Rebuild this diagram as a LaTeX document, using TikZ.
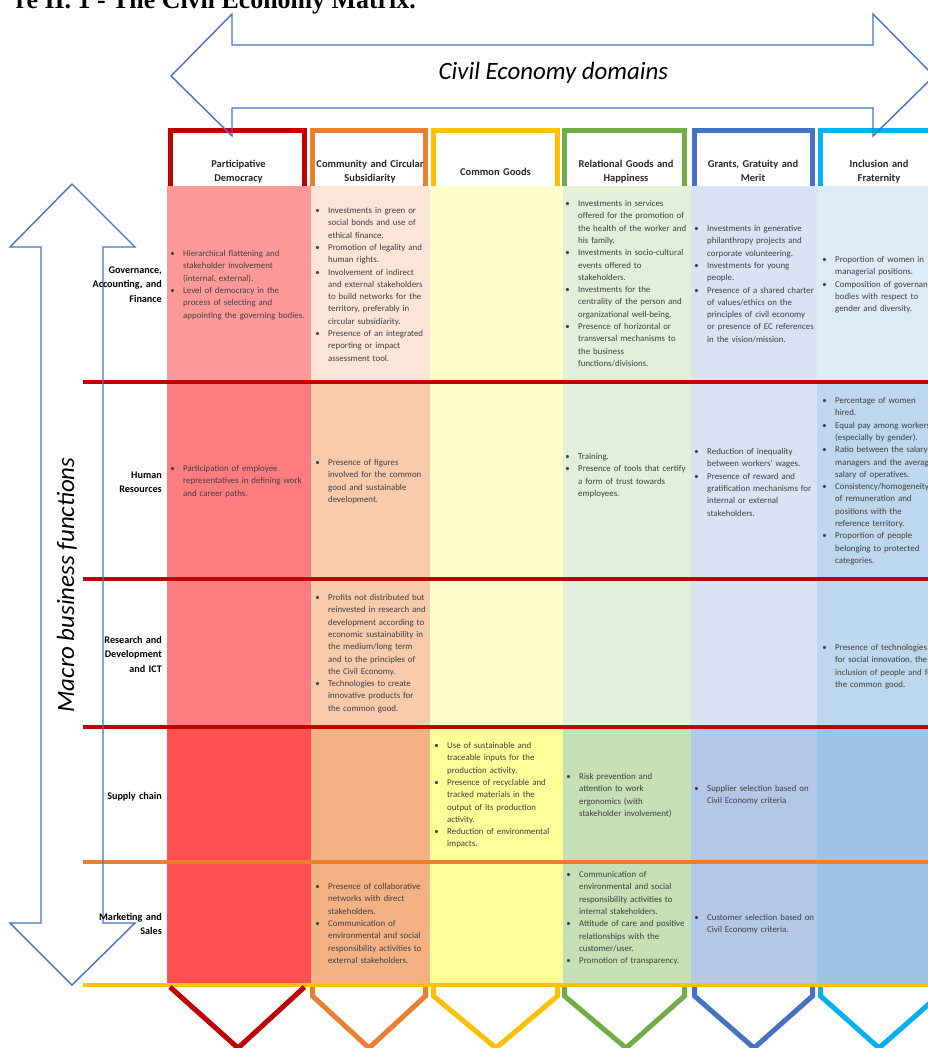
\documentclass[tikz,border=0pt]{standalone}
\usepackage{fontspec}
\setmainfont{Carlito}
\newfontfamily\titlefont{Liberation Serif}
\definecolor{cRed}{HTML}{C00000}
\definecolor{cOrange}{HTML}{ED7D31}
\definecolor{cYellow}{HTML}{FFC000}
\definecolor{cGreen}{HTML}{70AD47}
\definecolor{cBlue}{HTML}{4472C4}
\definecolor{cCyan}{HTML}{00B0F0}
\definecolor{fA1}{HTML}{FF9999}\definecolor{fA2}{HTML}{FF7C80}\definecolor{fA3}{HTML}{FF5050}
\definecolor{fB1}{HTML}{FBE5D6}\definecolor{fB2}{HTML}{F8CBAD}\definecolor{fB3}{HTML}{F4B183}
\definecolor{fC1}{HTML}{FFFFCC}\definecolor{fC3}{HTML}{FFFF99}
\definecolor{fD1}{HTML}{E2F0D9}\definecolor{fD3}{HTML}{C5E0B4}
\definecolor{fE1}{HTML}{DAE3F3}\definecolor{fE3}{HTML}{B4C7E7}
\definecolor{fF1}{HTML}{DEEBF7}\definecolor{fF2}{HTML}{BDD7EE}\definecolor{fF3}{HTML}{9DC3E6}
\definecolor{txtgray}{HTML}{404040}
\definecolor{headtxt}{HTML}{262626}
\newcommand\cbul{\leavevmode\llap{•\hspace{8.5bp}}}
\tikzset{
  celltext/.style={font=\fontsize{8.9}{12.35}\selectfont, text=txtgray, align=left, text width=150bp, inner sep=0pt, anchor=base west},
  rowlabel/.style={font=\bfseries\fontsize{10.2}{14.5}\selectfont, text=black, align=right, text width=90bp, inner sep=0pt, anchor=base east},
  headtext/.style={font=\bfseries\fontsize{10.5}{14.6}\selectfont, text=headtxt, align=center, text width=130bp, inner sep=0pt, anchor=base},
  bigital/.style={font=\itshape\fontsize{25}{30}\selectfont, text=black, inner sep=0pt, anchor=base},
  rowline/.style={line width=4.5bp, draw=#1},
  hbox/.style={line width=5bp, draw=#1, line join=miter},
  arrowline/.style={draw=cBlue, line width=1.4bp, line join=miter}
}
\begin{document}
\begin{tikzpicture}[x=1bp,y=-1bp]
\useasboundingbox (0,0) rectangle (928,1048);
\clip (0,0) rectangle (928,1048);
% column fills
\fill[fA1] (167,186) rectangle (311,382);
\fill[fA2] (167,382) rectangle (311,727);
\fill[fA3] (167,727) rectangle (311,985);
\fill[fB1] (311,186) rectangle (430,382);
\fill[fB2] (311,382) rectangle (430,727);
\fill[fB3] (311,727) rectangle (430,985);
\fill[fC1] (430,186) rectangle (563,727);
\fill[fC3] (430,727) rectangle (563,985);
\fill[fD1] (563,186) rectangle (691,727);
\fill[fD3] (563,727) rectangle (691,985);
\fill[fE1] (691,186) rectangle (817,727);
\fill[fE3] (691,727) rectangle (817,985);
\fill[fF1] (817,186) rectangle (928,382);
\fill[fF2] (817,382) rectangle (928,727);
\fill[fF3] (817,727) rectangle (928,985);
% row lines
\draw[rowline=cRed] (83,382) -- (928,382);
\draw[rowline=cRed] (83,579) -- (928,579);
\draw[rowline=cRed] (83,727) -- (928,727);
\draw[rowline=cOrange] (83,862) -- (928,862);
\draw[rowline=cYellow] (83,985) -- (928,985);
% header boxes
\draw[hbox=cRed] (170,186) -- (170,130.5) -- (304.5,130.5) -- (304.5,186);
\draw[hbox=cOrange] (312.5,186) -- (312.5,130.5) -- (425.5,130.5) -- (425.5,186);
\draw[hbox=cYellow] (433.5,186) -- (433.5,130.5) -- (557.5,130.5) -- (557.5,186);
\draw[hbox=cGreen] (564.5,186) -- (564.5,130.5) -- (684.5,130.5) -- (684.5,186);
\draw[hbox=cBlue] (694.5,186) -- (694.5,130.5) -- (812.5,130.5) -- (812.5,186);
\draw[hbox=cCyan] (820.5,186) -- (820.5,130.5) -- (940,130.5) -- (940,186);
% bottom chevrons
\draw[hbox=cRed] (170,987) -- (238,1048) -- (304.5,987);
\draw[hbox=cOrange] (312.5,987) -- (312.5,996) -- (369,1048) -- (425.5,996) -- (425.5,987);
\draw[hbox=cYellow] (433.5,987) -- (433.5,996) -- (496,1048) -- (557.5,996) -- (557.5,987);
\draw[hbox=cGreen] (564.5,987) -- (564.5,996) -- (626,1048) -- (684.5,996) -- (684.5,987);
\draw[hbox=cBlue] (694.5,987) -- (694.5,996) -- (754,1048) -- (812.5,996) -- (812.5,987);
\draw[hbox=cCyan] (820.5,987) -- (820.5,996) -- (879,1048) -- (938,996) -- (938,987);
% block arrows
\draw[arrowline] (171,76) -- (232,14) -- (232,45) -- (873,45) -- (873,14) -- (934,76) -- (873,136) -- (873,108) -- (232,108) -- (232,136) -- cycle;
\draw[arrowline] (72,184) -- (135,247) -- (103,247) -- (103,923) -- (135,923) -- (72,985) -- (10,923) -- (41,923) -- (41,247) -- (10,247) -- cycle;
% title and axis labels
\node[font=\titlefont\bfseries\fontsize{26}{30}\selectfont, anchor=base east, inner sep=0pt] (title) at (416,8) {re II. 1 - The Civil Economy Matrix.};
\node[bigital] (domains) at (553.5,79) {Civil Economy domains};
\node[bigital, rotate=90] (functions) at (74,585) {Macro business functions};
% headers
\node[headtext] (h1) at (238.5,167) {Participative\\Democracy};
\node[headtext] (h2) at (370,167) {Community and Circular\\Subsidiarity};
\node[headtext] (h3) at (495.5,175.5) {Common Goods};
\node[headtext] (h4) at (626,167) {Relational Goods and\\Happiness};
\node[headtext] (h5) at (753,167) {Grants, Gratuity and\\Merit};
\node[headtext] (h6) at (879,167) {Inclusion and\\Fraternity};
% row labels
\node[rowlabel] (l1) at (162,273.5) {Governance,\\Accounting, and\\Finance};
\node[rowlabel] (l2) at (162,478.5) {Human\\Resources};
\node[rowlabel] (l3) at (162,643.5) {Research and\\Development\\and ICT};
\node[rowlabel] (l4) at (162,799.5) {Supply chain};
\node[rowlabel] (l5) at (162,920.5) {Marketing and\\Sales};
% row 1
\node[celltext] (r1c1) at (183,256.5) {\cbul Hierarchical flattening and\\stakeholder involvement\\(internal, external).\\\cbul Level of democracy in the\\process of selecting and\\appointing the governing bodies.};
\node[celltext] (r1c2) at (328,213.5) {\cbul Investments in green or\\social bonds and use of\\ethical finance.\\\cbul Promotion of legality and\\human rights.\\\cbul Involvement of indirect\\and external stakeholders\\to build networks for the\\territory, preferably in\\circular subsidiarity.\\\cbul Presence of an integrated\\reporting or impact\\assessment tool.};
\node[celltext] (r1c4) at (578,206.5) {\cbul Investments in services\\offered for the promotion of\\the health of the worker and\\his family.\\\cbul Investments in socio-cultural\\events offered to\\stakeholders.\\\cbul Investments for the\\centrality of the person and\\organizational well-being.\\\cbul Presence of horizontal or\\transversal mechanisms to\\the business\\functions/divisions.};
\node[celltext] (r1c5) at (707,231.5) {\cbul Investments in generative\\philanthropy projects and\\corporate volunteering.\\\cbul Investments for young\\people.\\\cbul Presence of a shared charter\\of values/ethics on the\\principles of civil economy\\or presence of EC references\\in the vision/mission.};
\node[celltext] (r1c6) at (835,262.5) {\cbul Proportion of women in\\managerial positions.\\\cbul Composition of governance\\bodies with respect to\\gender and diversity.};
% row 2
\node[celltext] (r2c1) at (183,471.5) {\cbul Participation of employee\\representatives in defining work\\and career paths.};
\node[celltext] (r2c2) at (328,465.5) {\cbul Presence of figures\\involved for the common\\good and sustainable\\development.};
\node[celltext] (r2c4) at (578,459.5) {\cbul Training.\\\cbul Presence of tools that certify\\a form of trust towards\\employees.};
\node[celltext] (r2c5) at (707,454.5) {\cbul Reduction of inequality\\between workers' wages.\\\cbul Presence of reward and\\gratification mechanisms for\\internal or external\\stakeholders.};
\node[celltext] (r2c6) at (835,403.5) {\cbul Percentage of women\\hired.\\\cbul Equal pay among workers\\(especially by gender).\\\cbul Ratio between the salary of\\managers and the average\\salary of operatives.\\\cbul Consistency/homogeneity\\of remuneration and\\positions with the\\reference territory.\\\cbul Proportion of people\\belonging to protected\\categories.};
% row 3
\node[celltext] (r3c2) at (328,600.5) {\cbul Profits not distributed but\\reinvested in research and\\development according to\\economic sustainability in\\the medium/long term\\and to the principles of\\the Civil Economy.\\\cbul Technologies to create\\innovative products for\\the common good.};
\node[celltext] (r3c6) at (835,650.5) {\cbul Presence of technologies\\for social innovation, the\\inclusion of people and for\\the common good.};
% row 4
\node[celltext] (r4c3) at (447,748.5) {\cbul Use of sustainable and\\traceable inputs for the\\production activity.\\\cbul Presence of recyclable and\\tracked materials in the\\output of its production\\activity.\\\cbul Reduction of environmental\\impacts.};
\node[celltext] (r4c4) at (579,779.5) {\cbul Risk prevention and\\attention to work\\ergonomics (with\\stakeholder involvement)};
\node[celltext] (r4c5) at (707,791.5) {\cbul Supplier selection based on\\Civil Economy criteria};
% row 5
\node[celltext] (r5c2) at (328,889.5) {\cbul Presence of collaborative\\networks with direct\\stakeholders.\\\cbul Communication of\\environmental and social\\responsibility activities to\\external stakeholders.};
\node[celltext] (r5c4) at (579,877.5) {\cbul Communication of\\environmental and social\\responsibility activities to\\internal stakeholders.\\\cbul Attitude of care and positive\\relationships with the\\customer/user.\\\cbul Promotion of transparency.};
\node[celltext] (r5c5) at (707,920.5) {\cbul Customer selection based on\\Civil Economy criteria.};
\end{tikzpicture}
\end{document}
